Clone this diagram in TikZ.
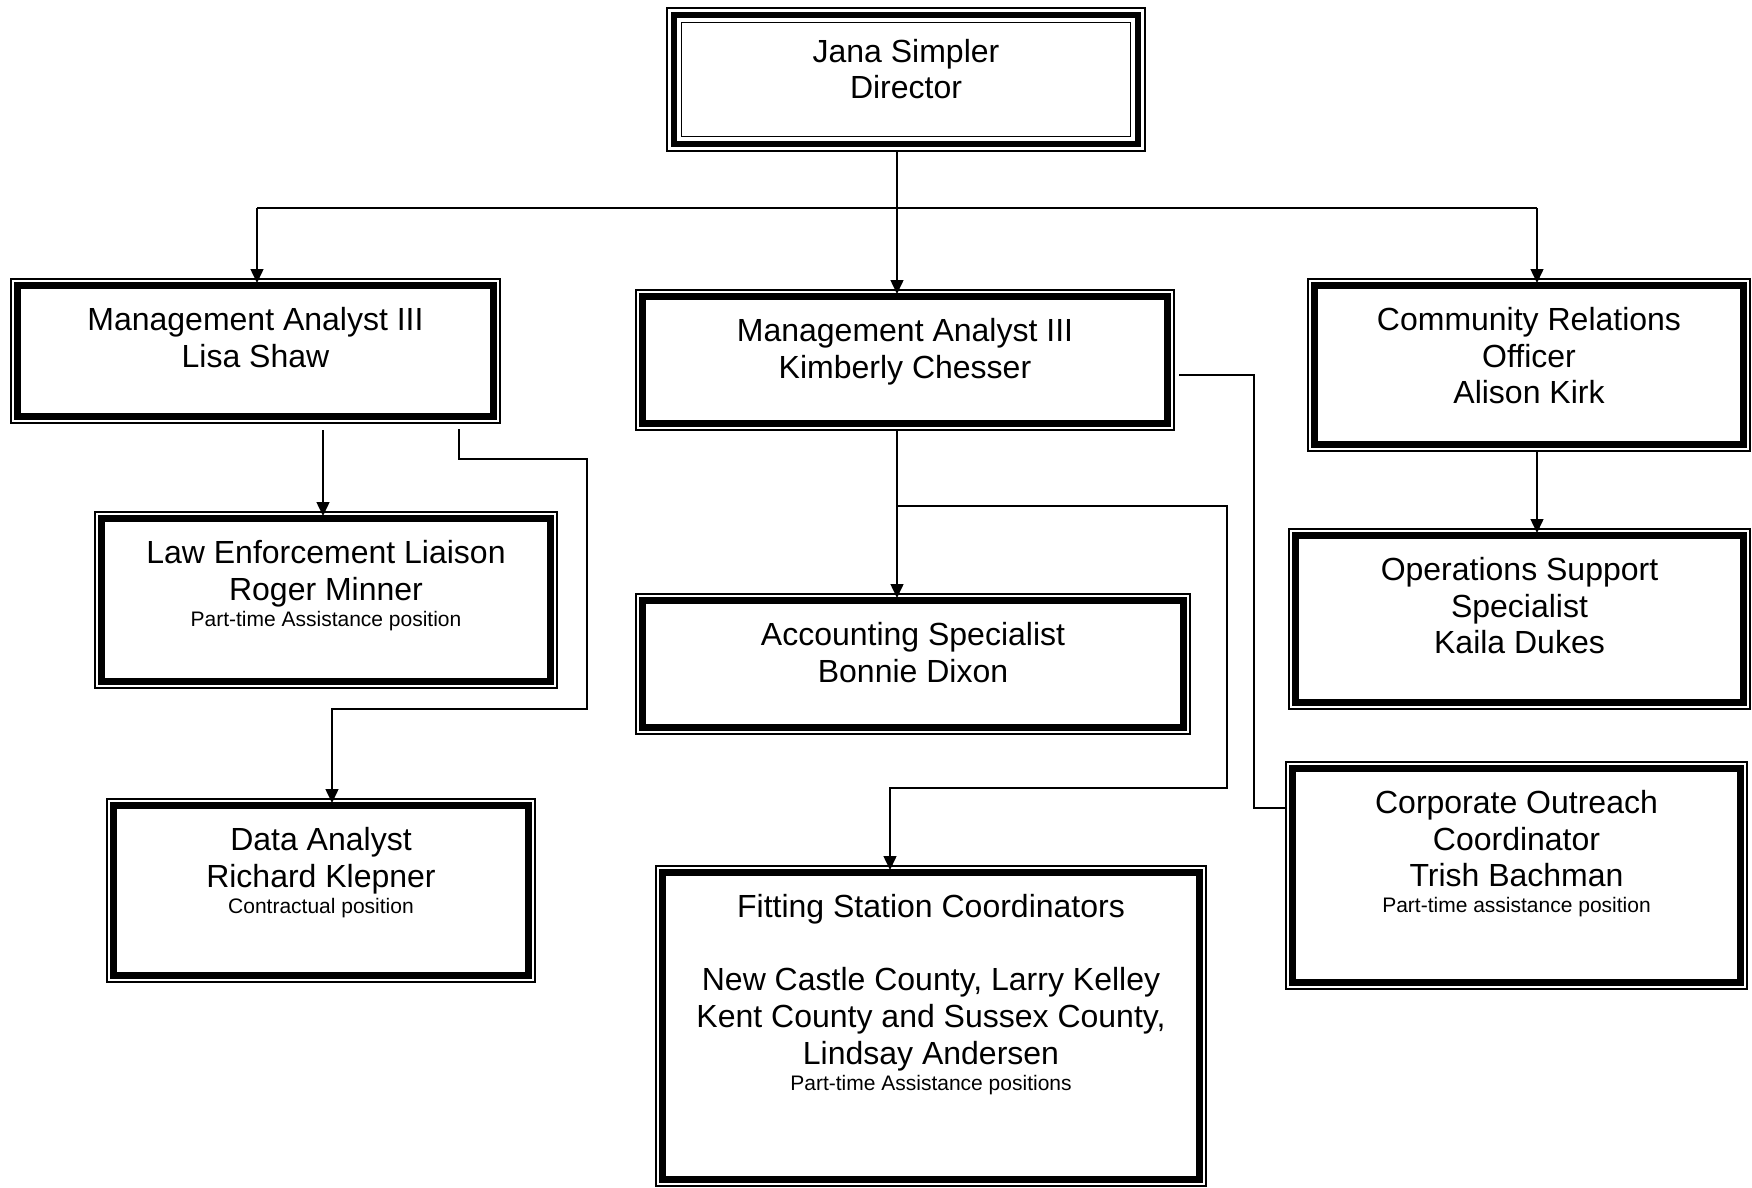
\documentclass[tikz,border=0pt]{standalone}
\usepackage{fontspec}
\setmainfont{Liberation Sans}
\usetikzlibrary{arrows.meta,fit,calc}
\begin{document}
\begin{tikzpicture}[x=0.5pt,y=-0.5pt,
  frame/.style={draw, line width=0.75pt, inner sep=0pt, outer sep=0pt, fill=white},
  thk/.style={line width=3.5pt},
  thn/.style={line width=0.9pt},
  txt/.style={align=center, inner sep=0pt, anchor=north, font=\fontsize{16}{18.4}\selectfont},
  conn/.style={line width=0.75pt},
  arr/.style={conn, -{Triangle[length=7pt,width=6.5pt]}, shorten >=-2pt},
]
\useasboundingbox[fill=white] (0,0) rectangle (1752,1188);

% boxes
\node[frame, fit={(667,8) (1145,151)}] (dir) {};
\node[frame, fit={(11,279) (500,423)}] (lisa) {};
\node[frame, fit={(636,290) (1174,430)}] (kim) {};
\node[frame, fit={(1308,279) (1750,451)}] (comm) {};
\node[frame, fit={(95,512) (557,688)}] (law) {};
\node[frame, fit={(636,594) (1190,734)}] (acct) {};
\node[frame, fit={(1289,529) (1750,709)}] (ops) {};
\node[frame, fit={(107,799) (535,982)}] (data) {};
\node[frame, fit={(656,866) (1206,1186)}] (fit) {};
\node[frame, fit={(1286,762) (1747,989)}] (corp) {};

% inner frames
\draw[line width=3pt] ([shift={(7,7)}]dir.north west) rectangle ([shift={(-7,-7)}]dir.south east);
\draw[thn] ([shift={(14.5,14.5)}]dir.north west) rectangle ([shift={(-14.5,-14.5)}]dir.south east);
\foreach \n in {lisa,kim,comm,law,acct,ops,data,fit,corp}
  \draw[thk] ([shift={(6.5,6.5)}]\n.north west) rectangle ([shift={(-6.5,-6.5)}]\n.south east);

% texts
\node[txt] (dir-t) at ([yshift=-14pt]dir.north) {\strut Jana Simpler\\Director};
\node[txt] (lisa-t) at ([yshift=-12.6pt]lisa.north) {\strut Management Analyst III\\Lisa Shaw};
\node[txt] (kim-t) at ([yshift=-12.6pt]kim.north) {\strut Management Analyst III\\Kimberly Chesser};
\node[txt] (comm-t) at ([yshift=-12.6pt]comm.north) {\strut Community Relations\\Officer\\Alison Kirk};
\node[txt] (law-t) at ([yshift=-12.6pt]law.north) {\strut Law Enforcement Liaison\\Roger Minner\\[-5.4pt]{\fontsize{10.5}{12}\selectfont Part-time Assistance position}};
\node[txt] (acct-t) at ([yshift=-12.6pt]acct.north) {\strut Accounting Specialist\\Bonnie Dixon};
\node[txt] (ops-t) at ([yshift=-12.6pt]ops.north) {\strut Operations Support\\Specialist\\Kaila Dukes};
\node[txt] (data-t) at ([yshift=-12.6pt]data.north) {\strut Data Analyst\\Richard Klepner\\[-5.4pt]{\fontsize{10.5}{12}\selectfont Contractual position}};
\node[txt] (fit-t) at ([yshift=-12.6pt]fit.north) {\strut Fitting Station Coordinators\\[18.4pt]New Castle County, Larry Kelley\\Kent County and Sussex County,\\Lindsay Andersen\\[-5.4pt]{\fontsize{10.5}{12}\selectfont Part-time Assistance positions}};
\node[txt] (corp-t) at ([yshift=-12.6pt]corp.north) {\strut Corporate Outreach\\Coordinator\\Trish Bachman\\[-5.4pt]{\fontsize{10.5}{12}\selectfont Part-time assistance position}};

% connector points
\coordinate (busL) at (257,208);
\coordinate (busM) at (897,208);
\coordinate (busR) at (1537,208);
\coordinate (la) at (323,430);
\coordinate (ld1) at (459,429);
\coordinate (ld2) at (587,459);
\coordinate (ld3) at (332,709);
\coordinate (kb) at (897,430);
\coordinate (kf1) at (897,506);
\coordinate (kf2) at (1227,788);
\coordinate (kf3) at (890,788);
\coordinate (kc1) at (1179,375);
\coordinate (kc2) at (1254,808);

% connectors
\draw[arr] (busM |- dir.south) -- (busM |- kim.north);
\draw[conn] (busL) -- (busR);
\draw[arr] (busL) -- (busL |- lisa.north);
\draw[arr] (busR) -- (busR |- comm.north);
\draw[arr] (la) -- (la |- law.north);
\draw[arr] (ld1) |- (ld2) |- (ld3) -- (ld3 |- data.north);
\draw[arr] (kb) -- (kb |- acct.north);
\draw[arr] (kf1) -| (kf2) -- (kf3) -- (kf3 |- fit.north);
\draw[conn] (kc1) -| (kc2) -- (kc2 -| corp.west);
\draw[arr] (busR |- comm.south) -- (busR |- ops.north);
\end{tikzpicture}
\end{document}
